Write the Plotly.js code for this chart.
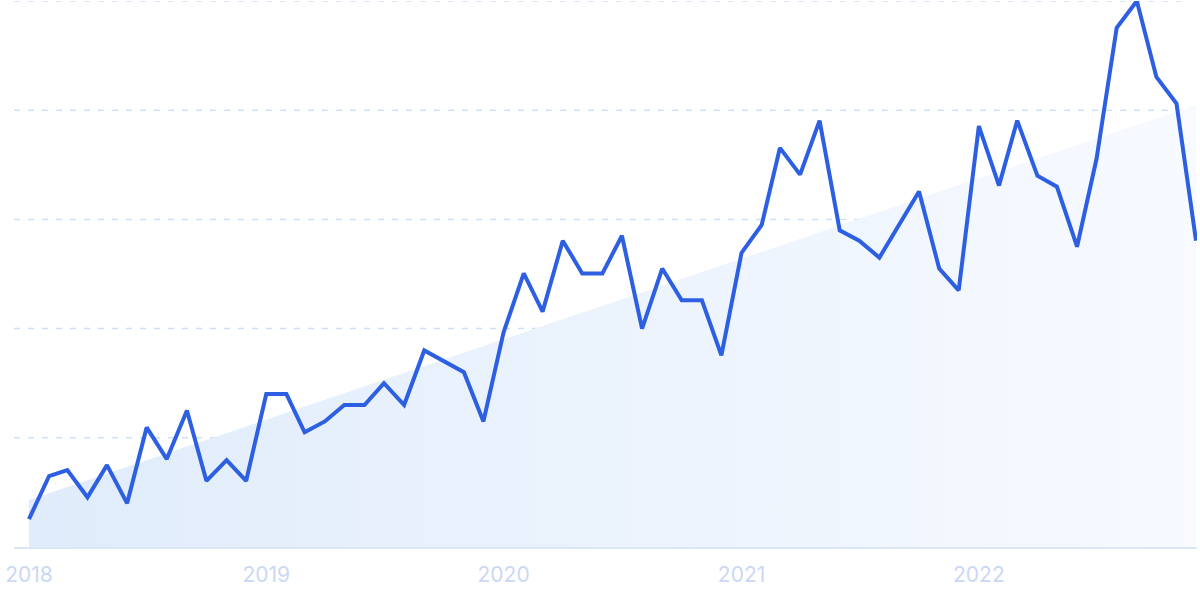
<!DOCTYPE html>
<html>
<head>
<meta charset="utf-8">
<script src="https://cdn.plot.ly/plotly-3.0.1.min.js"></script>
<style>html,body{margin:0;padding:0;background:#fff;}#chart{width:1200px;height:599px;}</style>
</head>
<body>
<div id="chart"></div>
<script>
// Monthly index values, Jan 2018 – Dec 2022 (0–100 scale)
const years = [2018, 2019, 2020, 2021, 2022];
const values2018 = [5.1, 13.0, 14.1, 9.1, 15.0, 8.0, 21.9, 16.1, 25.0, 12.1, 15.9, 12.1];
const values2019 = [28.0, 28.0, 21.0, 23.0, 26.0, 26.0, 30.0, 26.0, 36.0, 34.0, 32.0, 23.0];
const values2020 = [39.3, 50.1, 43.1, 56.1, 50.1, 50.1, 57.0, 40.0, 51.0, 45.2, 45.2, 35.1];
const values2021 = [53.9, 59.0, 73.1, 68.2, 78.1, 58.0, 56.1, 53.0, 59.0, 65.1, 51.0, 47.0];
const values2022 = [77.1, 66.2, 78.1, 68.0, 66.0, 55.0, 71.1, 95.1, 100, 86.1, 81.2, 56.1];
const trendStart = 8.6;
const trendEnd = 81.0;
const tickLabels = ['2018', '2019', '2020', '2021', '2022'];
const gridValues = [20, 40, 60, 80, 100];

const values = [].concat(values2018, values2019, values2020, values2021, values2022);
const months = [];
years.forEach(y => { for (let m = 1; m <= 12; m++) months.push(y + '-' + String(m).padStart(2, '0') + '-01'); });
const tickVals = years.map(y => y + '-01-01');

const trendTrace = {
  x: [months[0], months[months.length - 1]],
  y: [trendStart, trendEnd],
  type: 'scatter', mode: 'lines',
  line: {width: 0},
  fill: 'tozeroy',
  fillgradient: {type: 'horizontal', colorscale: [[0, 'rgb(224,236,251)'], [1, 'rgb(247,250,255)']]},
  hoverinfo: 'skip', showlegend: false
};
const lineTrace = {
  x: months, y: values,
  type: 'scatter', mode: 'lines',
  line: {color: '#2d5fe2', width: 4, shape: 'linear'},
  cliponaxis: false,
  showlegend: false
};

const shapes = gridValues.map(v => ({
  type: 'line', xref: 'paper', yref: 'y', x0: 0, x1: 0.9925, y0: v, y1: v,
  line: {color: '#cddffa', width: 1.5, dash: '6px,8px'}, layer: 'below'
}));

const layout = {
  width: 1200, height: 599,
  margin: {l: 14, r: 3, t: 1, b: 52},
  paper_bgcolor: '#ffffff', plot_bgcolor: '#ffffff',
  showlegend: false,
  shapes: shapes,
  xaxis: {
    type: 'date',
    range: ['2017-12-09', '2022-12-02 12:00'],
    tickvals: tickVals, ticktext: tickLabels,
    showgrid: false, zeroline: false,
    showline: true, linecolor: '#dbe6f7', linewidth: 1.5,
    ticks: '', ticklabelstandoff: 8,
    tickfont: {family: 'Inter, "Noto Sans", sans-serif', size: 21, color: '#cbd8f4'}
  },
  yaxis: {
    range: [0, 100], showgrid: false, zeroline: false, showline: false,
    showticklabels: false, ticks: ''
  }
};

Plotly.newPlot('chart', [trendTrace, lineTrace], layout, {displayModeBar: false, staticPlot: true});
</script>
</body>
</html>
